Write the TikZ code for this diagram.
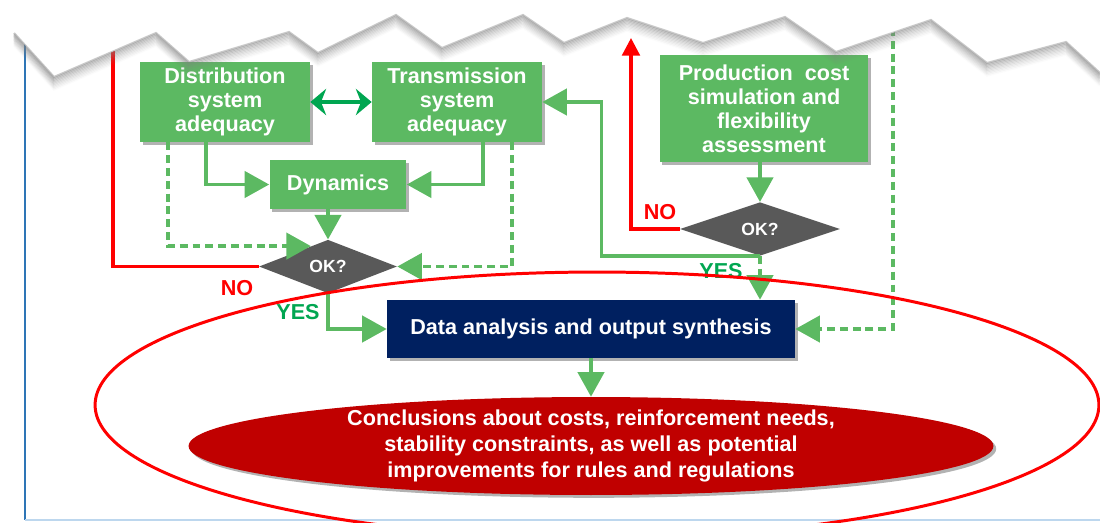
\documentclass[tikz,border=0pt]{standalone}
\usepackage{fontspec}
\setmainfont{Liberation Sans}
\usetikzlibrary{arrows.meta,shapes.geometric,shadows,calc}

\definecolor{boxgreen}{RGB}{92,185,98}
\definecolor{darkgreen}{RGB}{0,166,81}
\definecolor{okgray}{RGB}{89,89,89}
\definecolor{navy}{RGB}{0,32,96}
\definecolor{darkred}{RGB}{192,0,0}
\definecolor{frameblue}{RGB}{46,117,182}
\definecolor{framelight}{RGB}{189,215,238}

\newcommand{\boxfont}{\bfseries\fontsize{12.3}{13.6}\selectfont}
\def\tornedge{(14,33) -- (54,77) -- (156,33) -- (189,62) -- (289,32) -- (318,53) -- (396,15) -- (442,48) -- (523,15) -- (564,43) -- (627,18) -- (703,43) -- (785,17) -- (836,52) -- (931,20) -- (987,63) -- (1066,42) -- (1100,73)}

\tikzset{
    boxshadow/.style={drop shadow={shadow xshift=1.6pt,shadow yshift=-1.6pt,opacity=.3,fill=black}},
    stepbox/.style={rectangle,fill=boxgreen,text=white,align=center,inner sep=0pt,font=\boxfont,boxshadow},
    okdiamond/.style={diamond,fill=okgray,text=white,inner sep=0pt,minimum height=1.07cm,font=\bfseries\fontsize{10}{12}\selectfont},
    flow/.style={draw=boxgreen,line width=2pt,-{Triangle[length=14pt,width=15pt]}},
    dashflow/.style={flow,dash pattern=on 4.5pt off 2.8pt},
    noline/.style={draw=red,line width=1.9pt},
    answer/.style={font=\boxfont}
}

\begin{document}
\begin{tikzpicture}[x=0.02cm,y=-0.02cm]
    \useasboundingbox (0,0) rectangle (1100,522);
    \clip (0,0) rectangle (1100,522);

    % frame
    \draw[frameblue,line width=0.8pt] (25,40) -- (25,520);
    \draw[framelight,line width=0.8pt] (25,520) -- (1100,520);

    \begin{scope}[every node/.style={stepbox}]
        \node[minimum width=3.4cm,minimum height=1.6cm] (dist) at (225,102) {Distribution\\system\\adequacy};
        \node[minimum width=3.4cm,minimum height=1.6cm] (trans) at (457,102) {Transmission\\system\\adequacy};
        \node[minimum width=2.74cm,minimum height=0.98cm] (dyn) at (338,184.5) {Dynamics};
        \node[minimum width=4.18cm,minimum height=2.14cm] (prod) at (764,108.5) {Production\ \ cost\\simulation and\\flexibility\\assessment};
    \end{scope}

    \node[okdiamond,minimum width=2.76cm] (ok1) at (328,266.5) {OK?};
    \node[okdiamond,minimum width=3.2cm] (ok2) at (760,229) {OK?};

    \node[rectangle,fill=navy,text=white,font=\boxfont,minimum width=8.16cm,minimum height=1.16cm,boxshadow] (data) at (591,329) {Data analysis and output synthesis};
    \node[ellipse,fill=darkred,text=white,align=center,inner xsep=0pt,inner ysep=-8pt,
        minimum width=16.1cm,minimum height=1.96cm,boxshadow,
        font=\bfseries\fontsize{12.3}{15}\selectfont] (concl) at (591,446)
        {Conclusions about costs, reinforcement needs,\\stability constraints, as well as potential\\improvements for rules and regulations};

    \coordinate (noUpA) at (113,36);
    \coordinate (noUpB) at (631,38);
    \coordinate (topIn) at (893,28);

    % straight connectors
    \begin{scope}[>={Triangle[length=14pt,width=15pt]},
            every edge/.style={draw=boxgreen,line width=2pt}]
        \path [->] (dyn.south -| ok1.north) edge (ok1.north);
        \path [->] (prod.south -| ok2.north) edge (ok2.north);
        \path [->] (data) edge (concl);
        \path [->] (ok2.south) edge[dash pattern=on 4.5pt off 2.8pt] (ok2.south |- data.north);
    \end{scope}
    \draw[darkgreen,line width=2.6pt,{Stealth[length=9pt,width=15pt]}-{Stealth[length=9pt,width=15pt]}] (dist) -- (trans);

    % elbow connectors
    \draw[flow] ($(dist.south)+(-19,0)$) |- (dyn.west);
    \draw[flow] ($(trans.south)+(26,0)$) |- (dyn.east);
    \draw[dashflow] ($(dist.south)+(-57,0)$) |- (ok1.130);
    \draw[dashflow] ($(trans.south)+(55,0)$) |- (ok1.east);
    \draw[flow] (ok1.south) |- (data.west);
    \draw[flow] (ok2.south) -| ($(trans.east)+(59,0)$) -- (trans.east);
    \draw[dashflow] (topIn) |- (data.east);
    \draw[noline] (ok1.west) -| (noUpA);
    \draw[noline,-{Triangle[length=10pt,width=10pt]}] (ok2.west) -| (noUpB);

    % answers
    \node[answer,text=red] (noA) at (237,288) {NO};
    \node[answer,text=red] (noB) at (660,212) {NO};
    \node[answer,text=darkgreen] (yesA) at (298,312) {YES};
    \node[answer,text=darkgreen] (yesB) at (721,271) {YES};

    % outer ring
    \draw[red,line width=1.7pt] (597,405) ellipse [x radius=10.04cm,y radius=2.66cm];

    % torn top edge
    \fill[white] \tornedge -- (1100,0) -- (0,0) -- (0,33) -- cycle;
    \foreach \d/\op in {0/.42,1/.36,2/.3,3/.25,4/.2,5/.16,6/.12,7/.09,8/.06,9/.03}
        \draw[black!50,line width=1.2pt,opacity=\op,yshift=-\d*0.8pt] \tornedge;
\end{tikzpicture}
\end{document}
